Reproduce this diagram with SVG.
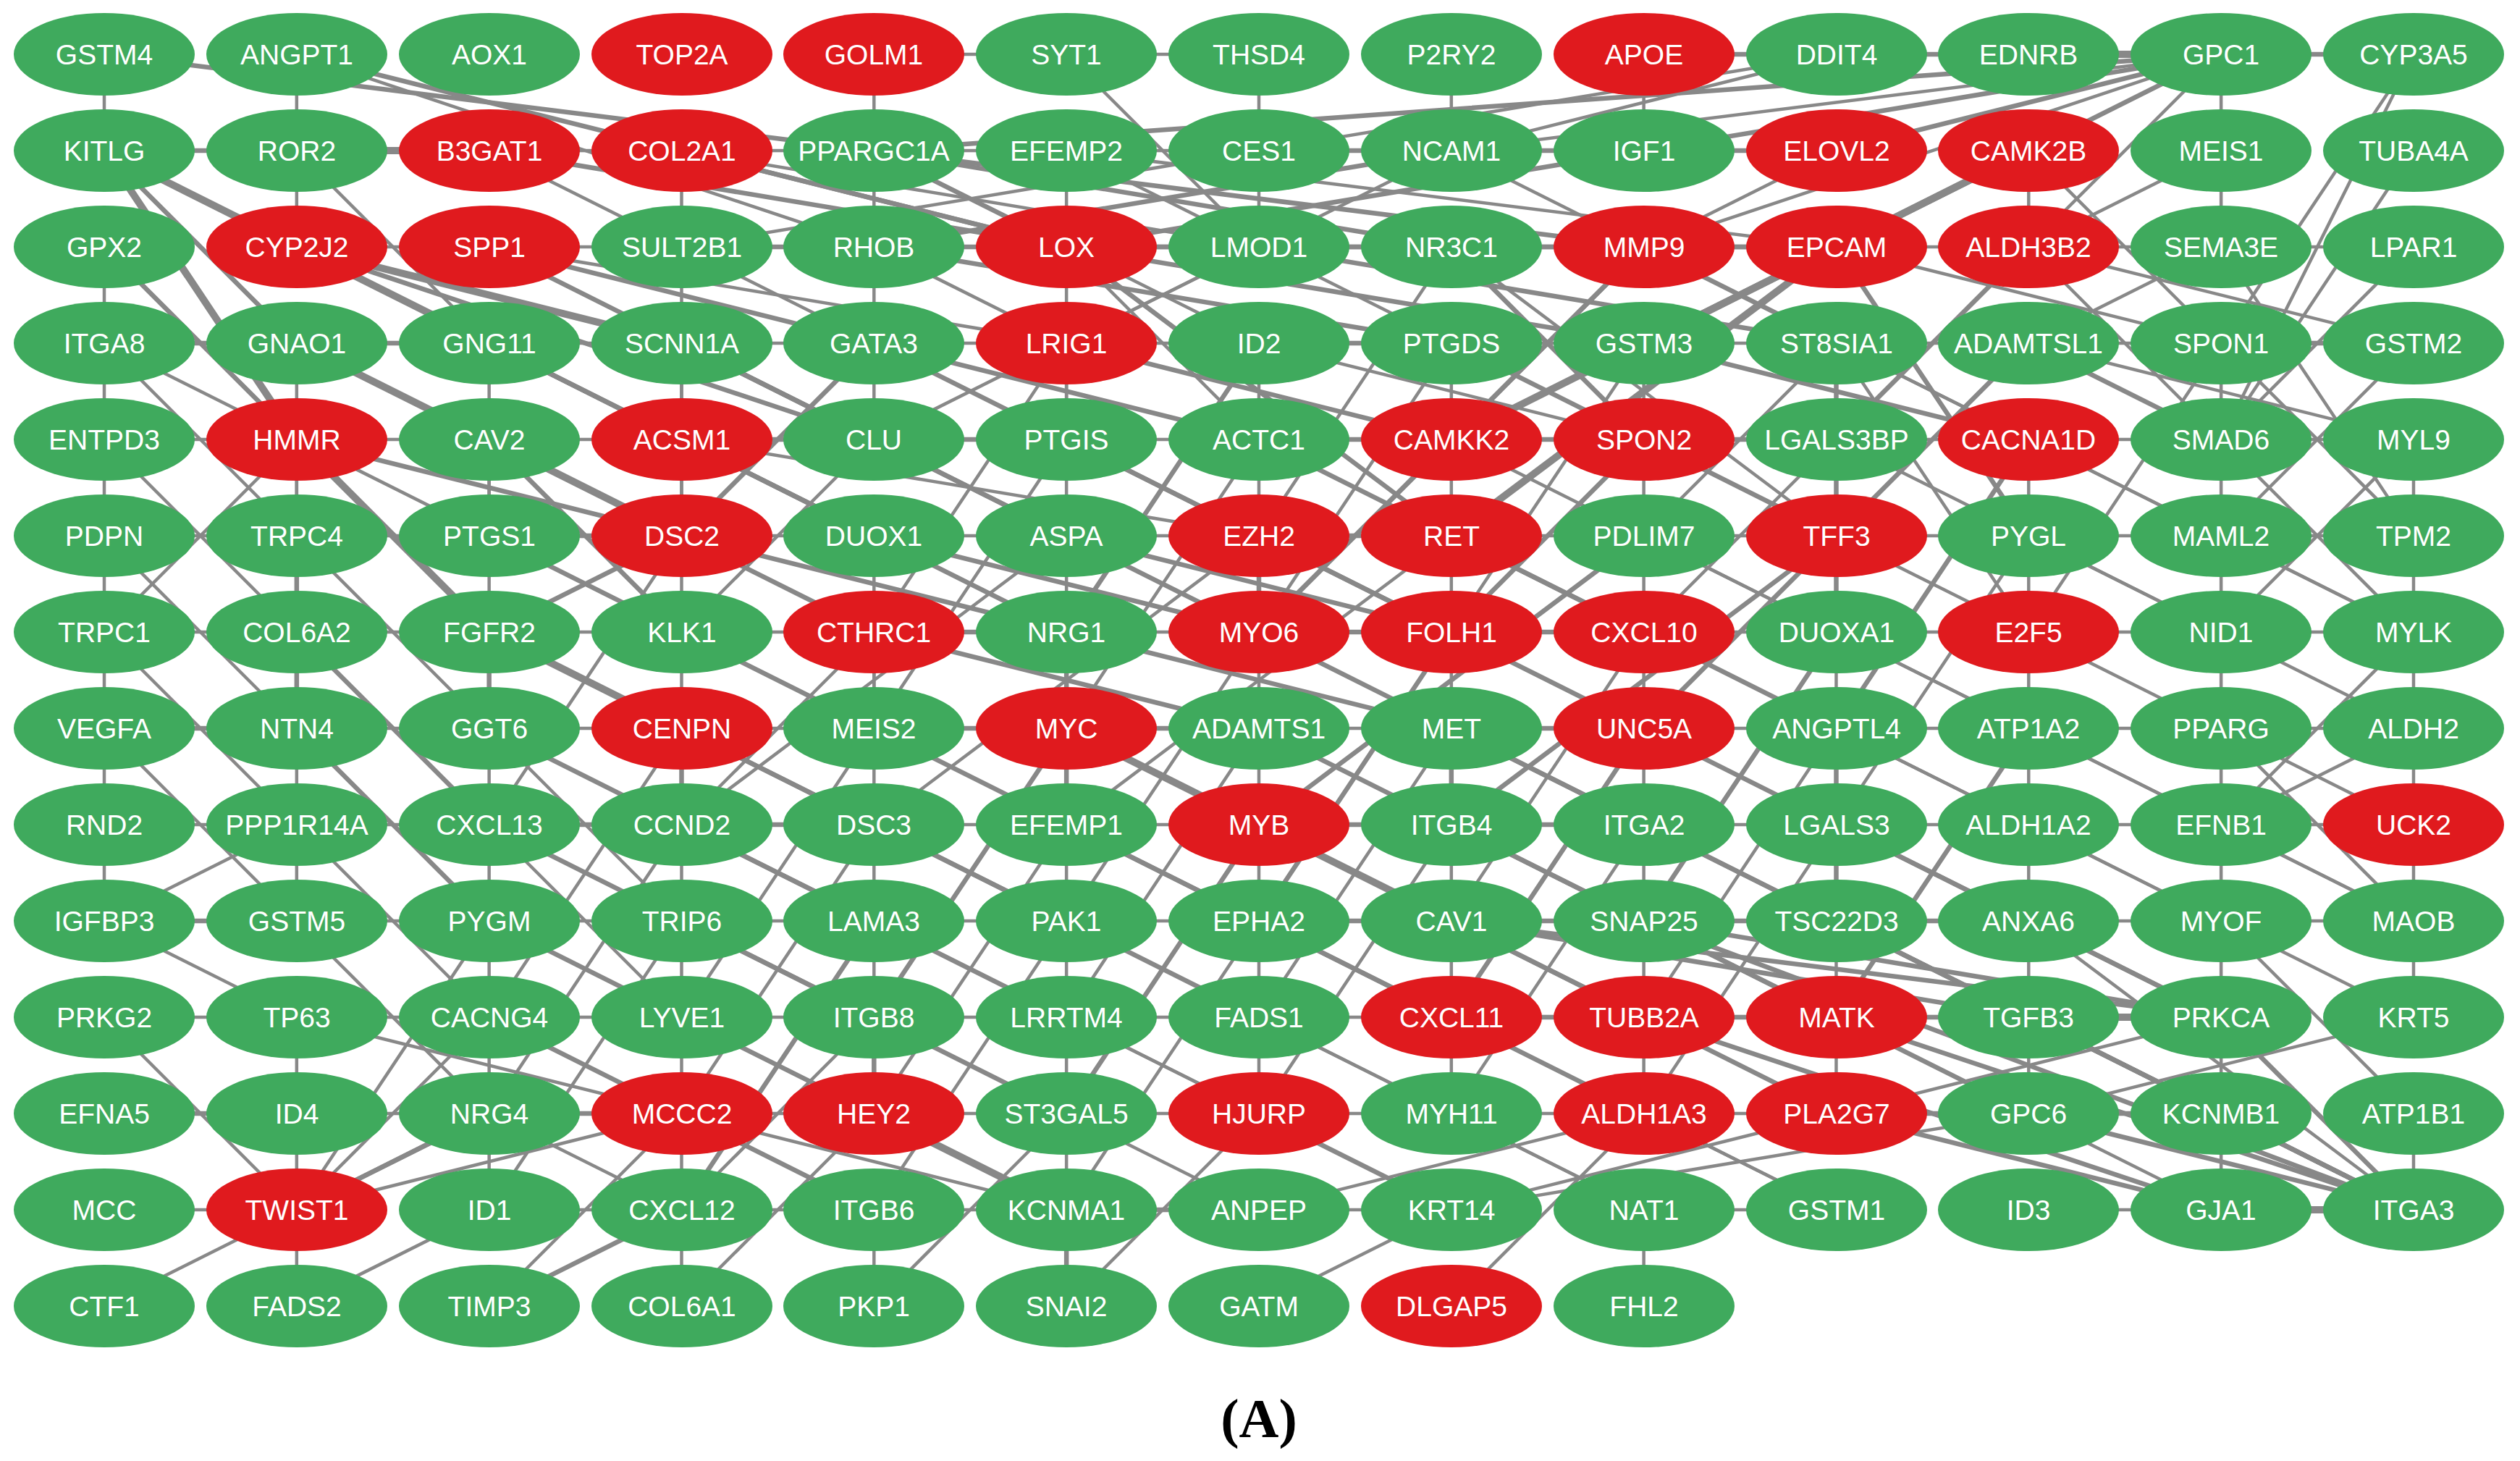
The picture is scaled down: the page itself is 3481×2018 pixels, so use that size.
<svg xmlns="http://www.w3.org/2000/svg" width="3481" height="2018" viewBox="0 0 3481 2018">
<style>
.bg{fill:#ffffff}
#connectors line{stroke:#888888;vector-effect:non-scaling-stroke;stroke-linecap:round}
#connectors .a{stroke-width:4.5}
#connectors .b{stroke-width:6.5}
#connectors .c{stroke-width:10}
.nodes ellipse{stroke:none}
.g ellipse{fill:#3faa5d}
.r ellipse{fill:#e01a1e}
.nodes text{font-family:"Liberation Sans",Arial,sans-serif;font-size:39px;fill:#ffffff;text-anchor:middle}
.cap{font-family:"Liberation Serif","Times New Roman",serif;font-size:76px;font-weight:bold;fill:#000000;text-anchor:middle}
</style>
<rect class="bg" x="0" y="0" width="3481" height="2018"/>
<g id="connectors" transform="matrix(265.83 0 0 133 144 75)">
<line class="a" x1="0" y1="0" x2="0" y2="1"/><line class="a" x1="1" y1="0" x2="1" y2="1"/><line class="b" x1="0" y1="0" x2="4" y2="1"/><line class="b" x1="1" y1="0" x2="5" y2="2"/><line class="a" x1="1" y1="0" x2="4" y2="2"/>
<line class="b" x1="0" y1="1" x2="1" y2="1"/><line class="c" x1="1" y1="1" x2="2" y2="1"/><line class="c" x1="0" y1="1" x2="2" y2="3"/><line class="c" x1="0" y1="1" x2="1" y2="4"/><line class="b" x1="0" y1="1" x2="1" y2="3"/><line class="a" x1="1" y1="1" x2="1" y2="2"/><line class="a" x1="1" y1="1" x2="2" y2="3"/>
<line class="b" x1="0" y1="2" x2="1" y2="4"/><line class="a" x1="0" y1="2" x2="0" y2="3"/><line class="c" x1="1" y1="2" x2="3" y2="3"/><line class="b" x1="1" y1="2" x2="4" y2="4"/><line class="a" x1="1" y1="2" x2="2" y2="2"/><line class="b" x1="1" y1="2" x2="4" y2="5"/>
<line class="a" x1="2" y1="1" x2="3" y2="1"/><line class="b" x1="2" y1="1" x2="5" y2="2"/><line class="a" x1="2" y1="1" x2="4" y2="3"/><line class="a" x1="3" y1="1" x2="4" y2="1"/><line class="b" x1="3" y1="1" x2="5" y2="2"/><line class="a" x1="3" y1="1" x2="6" y2="2"/><line class="a" x1="3" y1="1" x2="3" y2="2"/>
<line class="a" x1="4" y1="0" x2="4" y2="1"/><line class="a" x1="4" y1="0" x2="5" y2="0"/><line class="a" x1="5" y1="0" x2="6" y2="0"/><line class="a" x1="5" y1="0" x2="6" y2="2"/><line class="a" x1="6" y1="0" x2="6" y2="1"/>
<line class="b" x1="4" y1="1" x2="11" y2="0"/><line class="b" x1="4" y1="1" x2="5" y2="2"/><line class="b" x1="4" y1="1" x2="7" y2="2"/><line class="b" x1="4" y1="1" x2="8" y2="2"/><line class="a" x1="4" y1="1" x2="6" y2="3"/><line class="a" x1="4" y1="1" x2="4" y2="2"/>
<line class="a" x1="5" y1="1" x2="5" y2="2"/><line class="a" x1="5" y1="1" x2="6" y2="2"/><line class="a" x1="5" y1="1" x2="9" y2="2"/><line class="a" x1="6" y1="1" x2="6" y2="2"/><line class="a" x1="6" y1="1" x2="3" y2="2"/>
<line class="a" x1="7" y1="0" x2="7" y2="1"/><line class="a" x1="8" y1="0" x2="8" y2="1"/><line class="b" x1="8" y1="0" x2="9" y2="0"/><line class="b" x1="9" y1="0" x2="10" y2="0"/><line class="c" x1="10" y1="0" x2="11" y2="0"/><line class="b" x1="11" y1="0" x2="12" y2="0"/>
<line class="a" x1="11" y1="0" x2="11" y2="1"/><line class="b" x1="11" y1="0" x2="10" y2="1"/><line class="b" x1="11" y1="0" x2="9" y2="1"/><line class="b" x1="11" y1="0" x2="8" y2="1"/><line class="a" x1="11" y1="0" x2="7" y2="1"/><line class="a" x1="11" y1="0" x2="10" y2="2"/><line class="a" x1="11" y1="0" x2="9" y2="2"/><line class="a" x1="11" y1="0" x2="8" y2="2"/>
<line class="a" x1="9" y1="0" x2="7" y2="1"/><line class="a" x1="9" y1="0" x2="6" y2="1"/><line class="a" x1="12" y1="0" x2="11" y2="3"/><line class="a" x1="12" y1="0" x2="11" y2="4"/><line class="a" x1="12" y1="1" x2="11" y2="4"/>
<line class="a" x1="11" y1="1" x2="11" y2="2"/><line class="a" x1="11" y1="1" x2="10" y2="2"/><line class="c" x1="10" y1="1" x2="9" y2="2"/><line class="c" x1="10" y1="1" x2="7" y2="4"/><line class="a" x1="10" y1="1" x2="10" y2="2"/><line class="a" x1="10" y1="1" x2="11" y2="3"/>
<line class="a" x1="9" y1="1" x2="8" y2="2"/><line class="b" x1="9" y1="1" x2="6" y2="1"/><line class="a" x1="8" y1="1" x2="4" y2="1"/><line class="b" x1="8" y1="1" x2="5" y2="2"/><line class="b" x1="7" y1="1" x2="4" y2="2"/><line class="a" x1="7" y1="1" x2="8" y2="2"/><line class="a" x1="7" y1="1" x2="5" y2="3"/>
<line class="a" x1="2" y1="2" x2="3" y2="2"/><line class="b" x1="2" y1="2" x2="4" y2="4"/><line class="a" x1="2" y1="2" x2="5" y2="3"/><line class="b" x1="2" y1="2" x2="6" y2="4"/><line class="b" x1="3" y1="2" x2="4" y2="2"/><line class="a" x1="3" y1="2" x2="5" y2="2"/><line class="a" x1="3" y1="2" x2="3" y2="4"/>
<line class="b" x1="4" y1="2" x2="8" y2="2"/><line class="a" x1="4" y1="2" x2="5" y2="3"/><line class="b" x1="4" y1="2" x2="7" y2="3"/><line class="a" x1="4" y1="2" x2="4" y2="3"/>
<line class="b" x1="5" y1="2" x2="9" y2="2"/><line class="b" x1="5" y1="2" x2="8" y2="3"/><line class="a" x1="5" y1="2" x2="6" y2="4"/><line class="b" x1="5" y1="2" x2="7" y2="5"/><line class="a" x1="5" y1="2" x2="5" y2="4"/>
<line class="a" x1="6" y1="2" x2="7" y2="3"/><line class="b" x1="6" y1="2" x2="9" y2="3"/><line class="a" x1="6" y1="2" x2="4" y2="4"/><line class="a" x1="7" y1="2" x2="8" y2="2"/><line class="b" x1="7" y1="2" x2="8" y2="4"/><line class="a" x1="7" y1="2" x2="6" y2="5"/><line class="a" x1="7" y1="2" x2="9" y2="5"/>
<line class="b" x1="8" y1="2" x2="9" y2="2"/><line class="b" x1="8" y1="2" x2="9" y2="3"/><line class="b" x1="8" y1="2" x2="7" y2="4"/><line class="b" x1="8" y1="2" x2="6" y2="6"/><line class="a" x1="8" y1="2" x2="10" y2="4"/>
<line class="a" x1="9" y1="2" x2="10" y2="2"/><line class="c" x1="9" y1="2" x2="8" y2="3"/><line class="c" x1="9" y1="2" x2="7" y2="5"/><line class="b" x1="9" y1="2" x2="10" y2="5"/><line class="a" x1="9" y1="2" x2="11" y2="3"/>
<line class="a" x1="10" y1="2" x2="11" y2="2"/><line class="b" x1="10" y1="2" x2="9" y2="4"/><line class="a" x1="10" y1="2" x2="11" y2="4"/><line class="a" x1="10" y1="2" x2="12" y2="3"/><line class="a" x1="11" y1="2" x2="12" y2="2"/><line class="a" x1="11" y1="2" x2="12" y2="5"/><line class="a" x1="11" y1="2" x2="10" y2="3"/><line class="a" x1="12" y1="2" x2="11" y2="4"/>
<line class="b" x1="0" y1="3" x2="1" y2="3"/><line class="a" x1="0" y1="3" x2="2" y2="5"/><line class="a" x1="0" y1="3" x2="1" y2="5"/><line class="a" x1="0" y1="3" x2="0" y2="4"/>
<line class="b" x1="1" y1="3" x2="2" y2="3"/><line class="a" x1="1" y1="3" x2="2" y2="4"/><line class="c" x1="1" y1="3" x2="3" y2="5"/><line class="a" x1="1" y1="3" x2="1" y2="5"/>
<line class="a" x1="2" y1="3" x2="3" y2="3"/><line class="b" x1="2" y1="3" x2="3" y2="4"/><line class="a" x1="2" y1="3" x2="2" y2="5"/><line class="b" x1="2" y1="3" x2="4" y2="5"/>
<line class="a" x1="3" y1="3" x2="4" y2="3"/><line class="b" x1="3" y1="3" x2="4" y2="4"/><line class="b" x1="3" y1="3" x2="5" y2="5"/><line class="a" x1="3" y1="3" x2="3" y2="5"/>
<line class="a" x1="4" y1="3" x2="5" y2="3"/><line class="a" x1="4" y1="3" x2="4" y2="4"/><line class="b" x1="4" y1="3" x2="6" y2="5"/><line class="b" x1="4" y1="3" x2="3" y2="5"/>
<line class="a" x1="5" y1="3" x2="6" y2="3"/><line class="a" x1="5" y1="3" x2="5" y2="4"/><line class="b" x1="5" y1="3" x2="7" y2="4"/><line class="a" x1="5" y1="3" x2="4" y2="6"/>
<line class="b" x1="6" y1="3" x2="7" y2="3"/><line class="a" x1="6" y1="3" x2="6" y2="4"/><line class="a" x1="6" y1="3" x2="8" y2="4"/><line class="b" x1="6" y1="3" x2="5" y2="6"/>
<line class="a" x1="7" y1="3" x2="8" y2="3"/><line class="a" x1="7" y1="3" x2="7" y2="4"/><line class="b" x1="7" y1="3" x2="9" y2="5"/><line class="a" x1="7" y1="3" x2="6" y2="6"/>
<line class="a" x1="8" y1="3" x2="9" y2="3"/><line class="a" x1="8" y1="3" x2="8" y2="4"/><line class="b" x1="8" y1="3" x2="10" y2="4"/><line class="a" x1="8" y1="3" x2="7" y2="6"/>
<line class="a" x1="9" y1="3" x2="10" y2="3"/><line class="b" x1="9" y1="3" x2="9" y2="4"/><line class="a" x1="9" y1="3" x2="8" y2="5"/><line class="a" x1="9" y1="3" x2="11" y2="5"/><line class="a" x1="9" y1="3" x2="10" y2="6"/>
<line class="a" x1="10" y1="3" x2="11" y2="3"/><line class="b" x1="10" y1="3" x2="11" y2="4"/><line class="b" x1="10" y1="3" x2="9" y2="5"/><line class="a" x1="10" y1="3" x2="12" y2="4"/>
<line class="b" x1="11" y1="3" x2="12" y2="3"/><line class="a" x1="11" y1="3" x2="11" y2="4"/><line class="a" x1="11" y1="3" x2="10" y2="6"/><line class="a" x1="11" y1="3" x2="12" y2="5"/><line class="a" x1="12" y1="3" x2="11" y2="5"/>
<line class="a" x1="0" y1="4" x2="1" y2="4"/><line class="a" x1="0" y1="4" x2="0" y2="5"/><line class="a" x1="0" y1="4" x2="1" y2="6"/>
<line class="a" x1="1" y1="4" x2="2" y2="4"/><line class="c" x1="1" y1="4" x2="2" y2="6"/><line class="a" x1="1" y1="4" x2="1" y2="6"/><line class="b" x1="1" y1="4" x2="3" y2="5"/><line class="a" x1="1" y1="4" x2="0" y2="6"/>
<line class="a" x1="2" y1="4" x2="3" y2="4"/><line class="b" x1="2" y1="4" x2="3" y2="6"/><line class="a" x1="2" y1="4" x2="2" y2="5"/><line class="b" x1="2" y1="4" x2="4" y2="6"/>
<line class="b" x1="3" y1="4" x2="4" y2="4"/><line class="a" x1="3" y1="4" x2="3" y2="5"/><line class="b" x1="3" y1="4" x2="5" y2="6"/><line class="a" x1="3" y1="4" x2="6" y2="5"/>
<line class="b" x1="4" y1="4" x2="5" y2="4"/><line class="a" x1="4" y1="4" x2="5" y2="5"/><line class="b" x1="4" y1="4" x2="6" y2="6"/><line class="a" x1="4" y1="4" x2="3" y2="6"/>
<line class="a" x1="5" y1="4" x2="6" y2="4"/><line class="a" x1="5" y1="4" x2="5" y2="5"/><line class="b" x1="5" y1="4" x2="7" y2="6"/><line class="a" x1="5" y1="4" x2="4" y2="7"/>
<line class="b" x1="6" y1="4" x2="7" y2="4"/><line class="a" x1="6" y1="4" x2="6" y2="5"/><line class="b" x1="6" y1="4" x2="8" y2="6"/><line class="a" x1="6" y1="4" x2="5" y2="7"/>
<line class="b" x1="7" y1="4" x2="8" y2="4"/><line class="a" x1="7" y1="4" x2="7" y2="5"/><line class="b" x1="7" y1="4" x2="6" y2="6"/><line class="a" x1="7" y1="4" x2="9" y2="6"/>
<line class="b" x1="8" y1="4" x2="9" y2="4"/><line class="a" x1="8" y1="4" x2="8" y2="5"/><line class="b" x1="8" y1="4" x2="7" y2="6"/><line class="a" x1="8" y1="4" x2="10" y2="6"/>
<line class="a" x1="9" y1="4" x2="10" y2="4"/><line class="b" x1="9" y1="4" x2="9" y2="5"/><line class="a" x1="9" y1="4" x2="8" y2="6"/><line class="a" x1="9" y1="4" x2="11" y2="6"/>
<line class="a" x1="10" y1="4" x2="11" y2="4"/><line class="a" x1="10" y1="4" x2="10" y2="5"/><line class="b" x1="10" y1="4" x2="9" y2="7"/><line class="a" x1="10" y1="4" x2="12" y2="6"/>
<line class="a" x1="11" y1="4" x2="12" y2="4"/><line class="a" x1="11" y1="4" x2="11" y2="5"/><line class="a" x1="11" y1="4" x2="12" y2="6"/><line class="a" x1="12" y1="4" x2="12" y2="5"/><line class="a" x1="12" y1="4" x2="11" y2="6"/>
<line class="a" x1="0" y1="5" x2="1" y2="5"/><line class="a" x1="0" y1="5" x2="0" y2="6"/><line class="a" x1="0" y1="5" x2="1" y2="7"/>
<line class="a" x1="1" y1="5" x2="2" y2="5"/><line class="b" x1="1" y1="5" x2="1" y2="7"/><line class="a" x1="1" y1="5" x2="2" y2="7"/>
<line class="b" x1="2" y1="5" x2="3" y2="5"/><line class="a" x1="2" y1="5" x2="2" y2="6"/><line class="b" x1="2" y1="5" x2="4" y2="7"/>
<line class="a" x1="3" y1="5" x2="4" y2="5"/><line class="a" x1="3" y1="5" x2="3" y2="6"/><line class="b" x1="3" y1="5" x2="2" y2="6"/><line class="b" x1="3" y1="5" x2="5" y2="6"/><line class="a" x1="3" y1="5" x2="2" y2="8"/>
<line class="a" x1="4" y1="5" x2="5" y2="5"/><line class="a" x1="4" y1="5" x2="4" y2="7"/><line class="b" x1="4" y1="5" x2="6" y2="6"/>
<line class="a" x1="5" y1="5" x2="6" y2="5"/><line class="a" x1="5" y1="5" x2="5" y2="7"/><line class="b" x1="5" y1="5" x2="7" y2="6"/><line class="a" x1="5" y1="5" x2="3" y2="8"/>
<line class="b" x1="6" y1="5" x2="7" y2="5"/><line class="b" x1="6" y1="5" x2="6" y2="6"/><line class="b" x1="6" y1="5" x2="8" y2="7"/><line class="a" x1="6" y1="5" x2="4" y2="8"/>
<line class="a" x1="7" y1="5" x2="8" y2="5"/><line class="a" x1="7" y1="5" x2="7" y2="6"/><line class="b" x1="7" y1="5" x2="9" y2="7"/><line class="a" x1="7" y1="5" x2="5" y2="8"/>
<line class="a" x1="8" y1="5" x2="9" y2="5"/><line class="a" x1="8" y1="5" x2="8" y2="6"/><line class="a" x1="8" y1="5" x2="10" y2="7"/><line class="b" x1="8" y1="5" x2="6" y2="8"/>
<line class="a" x1="9" y1="5" x2="10" y2="5"/><line class="b" x1="9" y1="5" x2="9" y2="6"/><line class="b" x1="9" y1="5" x2="8" y2="7"/><line class="b" x1="9" y1="5" x2="7" y2="8"/>
<line class="a" x1="10" y1="5" x2="11" y2="5"/><line class="a" x1="10" y1="5" x2="10" y2="6"/><line class="a" x1="10" y1="5" x2="12" y2="7"/><line class="a" x1="10" y1="5" x2="9" y2="8"/>
<line class="a" x1="11" y1="5" x2="12" y2="5"/><line class="a" x1="11" y1="5" x2="11" y2="6"/><line class="a" x1="11" y1="5" x2="12" y2="6"/><line class="a" x1="12" y1="5" x2="12" y2="6"/>
<line class="a" x1="0" y1="6" x2="1" y2="6"/><line class="a" x1="0" y1="6" x2="0" y2="7"/><line class="a" x1="0" y1="6" x2="1" y2="8"/>
<line class="a" x1="1" y1="6" x2="2" y2="6"/><line class="a" x1="1" y1="6" x2="1" y2="7"/><line class="b" x1="1" y1="6" x2="2" y2="8"/>
<line class="a" x1="2" y1="6" x2="3" y2="6"/><line class="b" x1="2" y1="6" x2="2" y2="7"/><line class="c" x1="2" y1="6" x2="3" y2="7"/><line class="b" x1="2" y1="6" x2="4" y2="8"/>
<line class="a" x1="3" y1="6" x2="4" y2="6"/><line class="a" x1="3" y1="6" x2="3" y2="7"/><line class="a" x1="3" y1="6" x2="5" y2="8"/>
<line class="b" x1="4" y1="6" x2="5" y2="6"/><line class="a" x1="4" y1="6" x2="4" y2="7"/><line class="b" x1="4" y1="6" x2="6" y2="7"/><line class="a" x1="4" y1="6" x2="3" y2="8"/>
<line class="a" x1="5" y1="6" x2="6" y2="6"/><line class="b" x1="5" y1="6" x2="5" y2="7"/><line class="b" x1="5" y1="6" x2="7" y2="7"/>
<line class="b" x1="6" y1="6" x2="7" y2="6"/><line class="a" x1="6" y1="6" x2="6" y2="7"/><line class="b" x1="6" y1="6" x2="8" y2="8"/><line class="a" x1="6" y1="6" x2="5" y2="9"/>
<line class="b" x1="7" y1="6" x2="8" y2="6"/><line class="a" x1="7" y1="6" x2="7" y2="7"/><line class="a" x1="7" y1="6" x2="9" y2="8"/><line class="b" x1="7" y1="6" x2="6" y2="9"/>
<line class="a" x1="8" y1="6" x2="9" y2="6"/><line class="a" x1="8" y1="6" x2="8" y2="7"/><line class="a" x1="8" y1="6" x2="10" y2="8"/><line class="a" x1="8" y1="6" x2="7" y2="9"/>
<line class="a" x1="9" y1="6" x2="10" y2="6"/><line class="a" x1="9" y1="6" x2="9" y2="7"/><line class="a" x1="9" y1="6" x2="11" y2="8"/><line class="b" x1="9" y1="6" x2="8" y2="9"/>
<line class="a" x1="10" y1="6" x2="11" y2="6"/><line class="a" x1="10" y1="6" x2="10" y2="7"/><line class="a" x1="10" y1="6" x2="12" y2="8"/>
<line class="a" x1="11" y1="6" x2="12" y2="6"/><line class="a" x1="11" y1="6" x2="11" y2="7"/><line class="a" x1="12" y1="6" x2="12" y2="7"/><line class="a" x1="12" y1="6" x2="11" y2="8"/>
<line class="b" x1="0" y1="7" x2="1" y2="7"/><line class="a" x1="0" y1="7" x2="0" y2="8"/><line class="a" x1="0" y1="7" x2="1" y2="9"/>
<line class="a" x1="1" y1="7" x2="2" y2="7"/><line class="a" x1="1" y1="7" x2="1" y2="8"/><line class="b" x1="1" y1="7" x2="2" y2="9"/>
<line class="a" x1="2" y1="7" x2="3" y2="7"/><line class="a" x1="2" y1="7" x2="2" y2="8"/><line class="b" x1="2" y1="7" x2="4" y2="9"/><line class="a" x1="2" y1="7" x2="3" y2="9"/>
<line class="a" x1="3" y1="7" x2="4" y2="7"/><line class="b" x1="3" y1="7" x2="3" y2="8"/><line class="b" x1="3" y1="7" x2="5" y2="9"/><line class="a" x1="3" y1="7" x2="2" y2="10"/>
<line class="b" x1="4" y1="7" x2="5" y2="7"/><line class="a" x1="4" y1="7" x2="4" y2="8"/><line class="b" x1="4" y1="7" x2="6" y2="9"/><line class="a" x1="4" y1="7" x2="3" y2="10"/>
<line class="b" x1="5" y1="7" x2="6" y2="7"/><line class="b" x1="5" y1="7" x2="5" y2="8"/><line class="c" x1="5" y1="7" x2="7" y2="9"/><line class="b" x1="5" y1="7" x2="4" y2="10"/><line class="b" x1="5" y1="7" x2="6" y2="8"/>
<line class="a" x1="6" y1="7" x2="7" y2="7"/><line class="a" x1="6" y1="7" x2="6" y2="8"/><line class="b" x1="6" y1="7" x2="8" y2="9"/><line class="a" x1="6" y1="7" x2="5" y2="10"/>
<line class="b" x1="7" y1="7" x2="8" y2="7"/><line class="b" x1="7" y1="7" x2="7" y2="8"/><line class="b" x1="7" y1="7" x2="9" y2="9"/><line class="a" x1="7" y1="7" x2="6" y2="10"/>
<line class="a" x1="8" y1="7" x2="9" y2="7"/><line class="a" x1="8" y1="7" x2="8" y2="8"/><line class="b" x1="8" y1="7" x2="10" y2="9"/><line class="b" x1="8" y1="7" x2="7" y2="10"/>
<line class="a" x1="9" y1="7" x2="10" y2="7"/><line class="b" x1="9" y1="7" x2="9" y2="8"/><line class="a" x1="9" y1="7" x2="11" y2="9"/><line class="a" x1="9" y1="7" x2="8" y2="10"/>
<line class="a" x1="10" y1="7" x2="11" y2="7"/><line class="a" x1="10" y1="7" x2="10" y2="8"/><line class="a" x1="10" y1="7" x2="12" y2="9"/><line class="b" x1="10" y1="7" x2="9" y2="10"/>
<line class="a" x1="11" y1="7" x2="12" y2="7"/><line class="a" x1="11" y1="7" x2="11" y2="8"/><line class="a" x1="11" y1="7" x2="12" y2="9"/><line class="a" x1="12" y1="7" x2="12" y2="8"/><line class="a" x1="12" y1="7" x2="11" y2="8"/>
<line class="a" x1="0" y1="8" x2="1" y2="8"/><line class="a" x1="0" y1="8" x2="0" y2="9"/><line class="a" x1="1" y1="8" x2="2" y2="8"/><line class="a" x1="1" y1="8" x2="1" y2="9"/><line class="a" x1="1" y1="8" x2="0" y2="9"/><line class="a" x1="1" y1="8" x2="2" y2="10"/>
<line class="b" x1="2" y1="8" x2="3" y2="8"/><line class="a" x1="2" y1="8" x2="2" y2="9"/><line class="b" x1="2" y1="8" x2="4" y2="10"/><line class="a" x1="2" y1="8" x2="3" y2="10"/>
<line class="b" x1="3" y1="8" x2="4" y2="8"/><line class="a" x1="3" y1="8" x2="3" y2="9"/><line class="b" x1="3" y1="8" x2="5" y2="10"/><line class="a" x1="3" y1="8" x2="2" y2="11"/>
<line class="a" x1="4" y1="8" x2="5" y2="8"/><line class="a" x1="4" y1="8" x2="4" y2="9"/><line class="b" x1="4" y1="8" x2="6" y2="10"/><line class="a" x1="4" y1="8" x2="3" y2="11"/>
<line class="a" x1="5" y1="8" x2="6" y2="8"/><line class="a" x1="5" y1="8" x2="5" y2="9"/><line class="b" x1="5" y1="8" x2="7" y2="10"/><line class="a" x1="5" y1="8" x2="4" y2="11"/>
<line class="b" x1="6" y1="8" x2="7" y2="8"/><line class="a" x1="6" y1="8" x2="6" y2="9"/><line class="b" x1="6" y1="8" x2="8" y2="10"/><line class="b" x1="6" y1="8" x2="5" y2="11"/>
<line class="b" x1="7" y1="8" x2="8" y2="8"/><line class="a" x1="7" y1="8" x2="7" y2="9"/><line class="b" x1="7" y1="8" x2="9" y2="10"/><line class="a" x1="7" y1="8" x2="6" y2="11"/>
<line class="a" x1="8" y1="8" x2="9" y2="8"/><line class="a" x1="8" y1="8" x2="8" y2="9"/><line class="b" x1="8" y1="8" x2="10" y2="10"/><line class="a" x1="8" y1="8" x2="7" y2="11"/>
<line class="a" x1="9" y1="8" x2="10" y2="8"/><line class="b" x1="9" y1="8" x2="9" y2="9"/><line class="b" x1="9" y1="8" x2="11" y2="10"/><line class="a" x1="9" y1="8" x2="8" y2="11"/>
<line class="a" x1="10" y1="8" x2="11" y2="8"/><line class="a" x1="10" y1="8" x2="10" y2="9"/><line class="a" x1="10" y1="8" x2="12" y2="10"/><line class="a" x1="11" y1="8" x2="12" y2="8"/><line class="a" x1="11" y1="8" x2="11" y2="9"/><line class="a" x1="11" y1="8" x2="12" y2="9"/><line class="a" x1="12" y1="8" x2="12" y2="9"/>
<line class="b" x1="0" y1="9" x2="1" y2="9"/><line class="a" x1="0" y1="9" x2="1" y2="10"/><line class="a" x1="1" y1="9" x2="2" y2="9"/><line class="a" x1="1" y1="9" x2="2" y2="11"/>
<line class="a" x1="2" y1="9" x2="3" y2="9"/><line class="a" x1="2" y1="9" x2="2" y2="10"/><line class="b" x1="2" y1="9" x2="4" y2="11"/><line class="a" x1="2" y1="9" x2="1" y2="12"/>
<line class="a" x1="3" y1="9" x2="4" y2="9"/><line class="a" x1="3" y1="9" x2="3" y2="10"/><line class="b" x1="3" y1="9" x2="5" y2="11"/><line class="a" x1="3" y1="9" x2="2" y2="12"/>
<line class="a" x1="4" y1="9" x2="5" y2="9"/><line class="a" x1="4" y1="9" x2="4" y2="10"/><line class="a" x1="4" y1="9" x2="6" y2="11"/><line class="b" x1="4" y1="9" x2="3" y2="12"/>
<line class="a" x1="5" y1="9" x2="6" y2="9"/><line class="a" x1="5" y1="9" x2="5" y2="10"/><line class="a" x1="5" y1="9" x2="7" y2="11"/><line class="a" x1="5" y1="9" x2="4" y2="12"/>
<line class="b" x1="6" y1="9" x2="7" y2="9"/><line class="a" x1="6" y1="9" x2="6" y2="10"/><line class="b" x1="6" y1="9" x2="8" y2="11"/><line class="a" x1="6" y1="9" x2="5" y2="12"/>
<line class="b" x1="7" y1="9" x2="8" y2="9"/><line class="a" x1="7" y1="9" x2="7" y2="10"/><line class="b" x1="7" y1="9" x2="9" y2="11"/><line class="b" x1="7" y1="9" x2="10" y2="10"/><line class="b" x1="7" y1="9" x2="11" y2="10"/>
<line class="b" x1="8" y1="9" x2="9" y2="9"/><line class="a" x1="8" y1="9" x2="8" y2="10"/><line class="b" x1="8" y1="9" x2="10" y2="11"/><line class="b" x1="8" y1="9" x2="11" y2="10"/><line class="b" x1="8" y1="9" x2="12" y2="12"/>
<line class="b" x1="9" y1="9" x2="10" y2="9"/><line class="a" x1="9" y1="9" x2="9" y2="10"/><line class="b" x1="9" y1="9" x2="11" y2="11"/><line class="b" x1="9" y1="9" x2="12" y2="12"/>
<line class="a" x1="10" y1="9" x2="11" y2="9"/><line class="a" x1="10" y1="9" x2="10" y2="10"/><line class="b" x1="10" y1="9" x2="11" y2="10"/><line class="a" x1="10" y1="9" x2="12" y2="12"/>
<line class="a" x1="11" y1="9" x2="12" y2="9"/><line class="a" x1="11" y1="9" x2="11" y2="10"/><line class="a" x1="11" y1="9" x2="12" y2="11"/><line class="a" x1="12" y1="9" x2="12" y2="10"/>
<line class="a" x1="0" y1="10" x2="1" y2="10"/><line class="a" x1="0" y1="10" x2="1" y2="12"/><line class="a" x1="1" y1="10" x2="2" y2="10"/><line class="a" x1="1" y1="10" x2="1" y2="11"/><line class="a" x1="1" y1="10" x2="3" y2="11"/>
<line class="a" x1="2" y1="10" x2="3" y2="10"/><line class="a" x1="2" y1="10" x2="2" y2="11"/><line class="b" x1="2" y1="10" x2="4" y2="12"/><line class="a" x1="2" y1="10" x2="1" y2="12"/>
<line class="a" x1="3" y1="10" x2="4" y2="10"/><line class="a" x1="3" y1="10" x2="3" y2="11"/><line class="a" x1="3" y1="10" x2="5" y2="12"/>
<line class="a" x1="4" y1="10" x2="5" y2="10"/><line class="b" x1="4" y1="10" x2="4" y2="11"/><line class="a" x1="4" y1="10" x2="6" y2="12"/><line class="a" x1="4" y1="10" x2="3" y2="12"/>
<line class="a" x1="5" y1="10" x2="6" y2="10"/><line class="a" x1="5" y1="10" x2="5" y2="11"/><line class="a" x1="5" y1="10" x2="7" y2="12"/>
<line class="a" x1="6" y1="10" x2="7" y2="10"/><line class="a" x1="6" y1="10" x2="6" y2="11"/><line class="a" x1="6" y1="10" x2="8" y2="12"/>
<line class="b" x1="7" y1="10" x2="8" y2="10"/><line class="a" x1="7" y1="10" x2="7" y2="11"/><line class="a" x1="7" y1="10" x2="9" y2="12"/>
<line class="b" x1="8" y1="10" x2="9" y2="10"/><line class="a" x1="8" y1="10" x2="8" y2="11"/><line class="b" x1="8" y1="10" x2="11" y2="12"/>
<line class="b" x1="9" y1="10" x2="10" y2="10"/><line class="a" x1="9" y1="10" x2="9" y2="11"/><line class="b" x1="9" y1="10" x2="12" y2="12"/>
<line class="c" x1="10" y1="10" x2="11" y2="10"/><line class="a" x1="10" y1="10" x2="10" y2="11"/><line class="b" x1="10" y1="10" x2="12" y2="12"/>
<line class="a" x1="11" y1="10" x2="11" y2="11"/><line class="b" x1="11" y1="10" x2="12" y2="12"/><line class="a" x1="12" y1="10" x2="10" y2="11"/>
<line class="b" x1="0" y1="11" x2="1" y2="11"/><line class="a" x1="1" y1="11" x2="2" y2="11"/><line class="a" x1="1" y1="11" x2="1" y2="12"/>
<line class="b" x1="2" y1="11" x2="3" y2="11"/><line class="b" x1="2" y1="11" x2="1" y2="12"/><line class="a" x1="2" y1="11" x2="2" y2="12"/><line class="a" x1="2" y1="11" x2="3" y2="12"/>
<line class="a" x1="3" y1="11" x2="4" y2="11"/><line class="a" x1="3" y1="11" x2="3" y2="12"/><line class="a" x1="3" y1="11" x2="5" y2="12"/><line class="a" x1="3" y1="11" x2="2" y2="13"/>
<line class="a" x1="4" y1="11" x2="5" y2="11"/><line class="c" x1="4" y1="11" x2="5" y2="12"/><line class="a" x1="4" y1="11" x2="3" y2="13"/>
<line class="a" x1="5" y1="11" x2="6" y2="11"/><line class="a" x1="5" y1="11" x2="5" y2="12"/><line class="a" x1="5" y1="11" x2="4" y2="13"/>
<line class="a" x1="6" y1="11" x2="7" y2="11"/><line class="b" x1="6" y1="11" x2="7" y2="12"/><line class="a" x1="6" y1="11" x2="5" y2="13"/>
<line class="a" x1="7" y1="11" x2="8" y2="11"/><line class="a" x1="7" y1="11" x2="8" y2="12"/><line class="a" x1="8" y1="11" x2="9" y2="11"/><line class="a" x1="8" y1="11" x2="9" y2="12"/>
<line class="b" x1="9" y1="11" x2="10" y2="11"/><line class="b" x1="9" y1="11" x2="11" y2="12"/><line class="b" x1="10" y1="11" x2="11" y2="11"/><line class="b" x1="10" y1="11" x2="12" y2="12"/><line class="a" x1="10" y1="11" x2="11" y2="12"/>
<line class="a" x1="11" y1="11" x2="11" y2="12"/><line class="b" x1="11" y1="11" x2="12" y2="12"/><line class="a" x1="12" y1="11" x2="12" y2="12"/>
<line class="a" x1="0" y1="12" x2="1" y2="12"/><line class="a" x1="0" y1="13" x2="1" y2="12"/><line class="a" x1="1" y1="12" x2="1" y2="13"/><line class="a" x1="1" y1="13" x2="2" y2="12"/><line class="b" x1="2" y1="13" x2="3" y2="12"/>
<line class="b" x1="1" y1="12" x2="2" y2="11"/><line class="a" x1="1" y1="12" x2="3" y2="11"/><line class="a" x1="2" y1="12" x2="3" y2="12"/><line class="a" x1="3" y1="12" x2="4" y2="12"/><line class="a" x1="4" y1="12" x2="5" y2="12"/>
<line class="b" x1="5" y1="12" x2="6" y2="12"/><line class="a" x1="6" y1="12" x2="7" y2="12"/><line class="a" x1="8" y1="12" x2="9" y2="12"/><line class="a" x1="10" y1="12" x2="11" y2="12"/><line class="c" x1="11" y1="12" x2="12" y2="12"/>
<line class="a" x1="6" y1="13" x2="7" y2="12"/><line class="a" x1="7" y1="13" x2="8" y2="11"/><line class="a" x1="8" y1="13" x2="8" y2="12"/><line class="a" x1="3" y1="13" x2="3" y2="12"/><line class="a" x1="4" y1="13" x2="4" y2="12"/><line class="b" x1="5" y1="13" x2="5" y2="12"/>
<line class="a" x1="7" y1="12" x2="10" y2="11"/><line class="a" x1="7" y1="12" x2="11" y2="10"/><line class="a" x1="6" y1="12" x2="8" y2="11"/>
</g>
<g class="nodes">
<g id="n-GSTM4" class="g" transform="translate(144,75)"><ellipse rx="125" ry="57"/><text y="14">GSTM4</text></g>
<g id="n-ANGPT1" class="g" transform="translate(410,75)"><ellipse rx="125" ry="57"/><text y="14">ANGPT1</text></g>
<g id="n-AOX1" class="g" transform="translate(676,75)"><ellipse rx="125" ry="57"/><text y="14">AOX1</text></g>
<g id="n-TOP2A" class="r" transform="translate(942,75)"><ellipse rx="125" ry="57"/><text y="14">TOP2A</text></g>
<g id="n-GOLM1" class="r" transform="translate(1207,75)"><ellipse rx="125" ry="57"/><text y="14">GOLM1</text></g>
<g id="n-SYT1" class="g" transform="translate(1473,75)"><ellipse rx="125" ry="57"/><text y="14">SYT1</text></g>
<g id="n-THSD4" class="g" transform="translate(1739,75)"><ellipse rx="125" ry="57"/><text y="14">THSD4</text></g>
<g id="n-P2RY2" class="g" transform="translate(2005,75)"><ellipse rx="125" ry="57"/><text y="14">P2RY2</text></g>
<g id="n-APOE" class="r" transform="translate(2271,75)"><ellipse rx="125" ry="57"/><text y="14">APOE</text></g>
<g id="n-DDIT4" class="g" transform="translate(2537,75)"><ellipse rx="125" ry="57"/><text y="14">DDIT4</text></g>
<g id="n-EDNRB" class="g" transform="translate(2802,75)"><ellipse rx="125" ry="57"/><text y="14">EDNRB</text></g>
<g id="n-GPC1" class="g" transform="translate(3068,75)"><ellipse rx="125" ry="57"/><text y="14">GPC1</text></g>
<g id="n-CYP3A5" class="g" transform="translate(3334,75)"><ellipse rx="125" ry="57"/><text y="14">CYP3A5</text></g>
<g id="n-KITLG" class="g" transform="translate(144,208)"><ellipse rx="125" ry="57"/><text y="14">KITLG</text></g>
<g id="n-ROR2" class="g" transform="translate(410,208)"><ellipse rx="125" ry="57"/><text y="14">ROR2</text></g>
<g id="n-B3GAT1" class="r" transform="translate(676,208)"><ellipse rx="125" ry="57"/><text y="14">B3GAT1</text></g>
<g id="n-COL2A1" class="r" transform="translate(942,208)"><ellipse rx="125" ry="57"/><text y="14">COL2A1</text></g>
<g id="n-PPARGC1A" class="g" transform="translate(1207,208)"><ellipse rx="125" ry="57"/><text y="14">PPARGC1A</text></g>
<g id="n-EFEMP2" class="g" transform="translate(1473,208)"><ellipse rx="125" ry="57"/><text y="14">EFEMP2</text></g>
<g id="n-CES1" class="g" transform="translate(1739,208)"><ellipse rx="125" ry="57"/><text y="14">CES1</text></g>
<g id="n-NCAM1" class="g" transform="translate(2005,208)"><ellipse rx="125" ry="57"/><text y="14">NCAM1</text></g>
<g id="n-IGF1" class="g" transform="translate(2271,208)"><ellipse rx="125" ry="57"/><text y="14">IGF1</text></g>
<g id="n-ELOVL2" class="r" transform="translate(2537,208)"><ellipse rx="125" ry="57"/><text y="14">ELOVL2</text></g>
<g id="n-CAMK2B" class="r" transform="translate(2802,208)"><ellipse rx="125" ry="57"/><text y="14">CAMK2B</text></g>
<g id="n-MEIS1" class="g" transform="translate(3068,208)"><ellipse rx="125" ry="57"/><text y="14">MEIS1</text></g>
<g id="n-TUBA4A" class="g" transform="translate(3334,208)"><ellipse rx="125" ry="57"/><text y="14">TUBA4A</text></g>
<g id="n-GPX2" class="g" transform="translate(144,341)"><ellipse rx="125" ry="57"/><text y="14">GPX2</text></g>
<g id="n-CYP2J2" class="r" transform="translate(410,341)"><ellipse rx="125" ry="57"/><text y="14">CYP2J2</text></g>
<g id="n-SPP1" class="r" transform="translate(676,341)"><ellipse rx="125" ry="57"/><text y="14">SPP1</text></g>
<g id="n-SULT2B1" class="g" transform="translate(942,341)"><ellipse rx="125" ry="57"/><text y="14">SULT2B1</text></g>
<g id="n-RHOB" class="g" transform="translate(1207,341)"><ellipse rx="125" ry="57"/><text y="14">RHOB</text></g>
<g id="n-LOX" class="r" transform="translate(1473,341)"><ellipse rx="125" ry="57"/><text y="14">LOX</text></g>
<g id="n-LMOD1" class="g" transform="translate(1739,341)"><ellipse rx="125" ry="57"/><text y="14">LMOD1</text></g>
<g id="n-NR3C1" class="g" transform="translate(2005,341)"><ellipse rx="125" ry="57"/><text y="14">NR3C1</text></g>
<g id="n-MMP9" class="r" transform="translate(2271,341)"><ellipse rx="125" ry="57"/><text y="14">MMP9</text></g>
<g id="n-EPCAM" class="r" transform="translate(2537,341)"><ellipse rx="125" ry="57"/><text y="14">EPCAM</text></g>
<g id="n-ALDH3B2" class="r" transform="translate(2802,341)"><ellipse rx="125" ry="57"/><text y="14">ALDH3B2</text></g>
<g id="n-SEMA3E" class="g" transform="translate(3068,341)"><ellipse rx="125" ry="57"/><text y="14">SEMA3E</text></g>
<g id="n-LPAR1" class="g" transform="translate(3334,341)"><ellipse rx="125" ry="57"/><text y="14">LPAR1</text></g>
<g id="n-ITGA8" class="g" transform="translate(144,474)"><ellipse rx="125" ry="57"/><text y="14">ITGA8</text></g>
<g id="n-GNAO1" class="g" transform="translate(410,474)"><ellipse rx="125" ry="57"/><text y="14">GNAO1</text></g>
<g id="n-GNG11" class="g" transform="translate(676,474)"><ellipse rx="125" ry="57"/><text y="14">GNG11</text></g>
<g id="n-SCNN1A" class="g" transform="translate(942,474)"><ellipse rx="125" ry="57"/><text y="14">SCNN1A</text></g>
<g id="n-GATA3" class="g" transform="translate(1207,474)"><ellipse rx="125" ry="57"/><text y="14">GATA3</text></g>
<g id="n-LRIG1" class="r" transform="translate(1473,474)"><ellipse rx="125" ry="57"/><text y="14">LRIG1</text></g>
<g id="n-ID2" class="g" transform="translate(1739,474)"><ellipse rx="125" ry="57"/><text y="14">ID2</text></g>
<g id="n-PTGDS" class="g" transform="translate(2005,474)"><ellipse rx="125" ry="57"/><text y="14">PTGDS</text></g>
<g id="n-GSTM3" class="g" transform="translate(2271,474)"><ellipse rx="125" ry="57"/><text y="14">GSTM3</text></g>
<g id="n-ST8SIA1" class="g" transform="translate(2537,474)"><ellipse rx="125" ry="57"/><text y="14">ST8SIA1</text></g>
<g id="n-ADAMTSL1" class="g" transform="translate(2802,474)"><ellipse rx="125" ry="57"/><text y="14">ADAMTSL1</text></g>
<g id="n-SPON1" class="g" transform="translate(3068,474)"><ellipse rx="125" ry="57"/><text y="14">SPON1</text></g>
<g id="n-GSTM2" class="g" transform="translate(3334,474)"><ellipse rx="125" ry="57"/><text y="14">GSTM2</text></g>
<g id="n-ENTPD3" class="g" transform="translate(144,607)"><ellipse rx="125" ry="57"/><text y="14">ENTPD3</text></g>
<g id="n-HMMR" class="r" transform="translate(410,607)"><ellipse rx="125" ry="57"/><text y="14">HMMR</text></g>
<g id="n-CAV2" class="g" transform="translate(676,607)"><ellipse rx="125" ry="57"/><text y="14">CAV2</text></g>
<g id="n-ACSM1" class="r" transform="translate(942,607)"><ellipse rx="125" ry="57"/><text y="14">ACSM1</text></g>
<g id="n-CLU" class="g" transform="translate(1207,607)"><ellipse rx="125" ry="57"/><text y="14">CLU</text></g>
<g id="n-PTGIS" class="g" transform="translate(1473,607)"><ellipse rx="125" ry="57"/><text y="14">PTGIS</text></g>
<g id="n-ACTC1" class="g" transform="translate(1739,607)"><ellipse rx="125" ry="57"/><text y="14">ACTC1</text></g>
<g id="n-CAMKK2" class="r" transform="translate(2005,607)"><ellipse rx="125" ry="57"/><text y="14">CAMKK2</text></g>
<g id="n-SPON2" class="r" transform="translate(2271,607)"><ellipse rx="125" ry="57"/><text y="14">SPON2</text></g>
<g id="n-LGALS3BP" class="g" transform="translate(2537,607)"><ellipse rx="125" ry="57"/><text y="14">LGALS3BP</text></g>
<g id="n-CACNA1D" class="r" transform="translate(2802,607)"><ellipse rx="125" ry="57"/><text y="14">CACNA1D</text></g>
<g id="n-SMAD6" class="g" transform="translate(3068,607)"><ellipse rx="125" ry="57"/><text y="14">SMAD6</text></g>
<g id="n-MYL9" class="g" transform="translate(3334,607)"><ellipse rx="125" ry="57"/><text y="14">MYL9</text></g>
<g id="n-PDPN" class="g" transform="translate(144,740)"><ellipse rx="125" ry="57"/><text y="14">PDPN</text></g>
<g id="n-TRPC4" class="g" transform="translate(410,740)"><ellipse rx="125" ry="57"/><text y="14">TRPC4</text></g>
<g id="n-PTGS1" class="g" transform="translate(676,740)"><ellipse rx="125" ry="57"/><text y="14">PTGS1</text></g>
<g id="n-DSC2" class="r" transform="translate(942,740)"><ellipse rx="125" ry="57"/><text y="14">DSC2</text></g>
<g id="n-DUOX1" class="g" transform="translate(1207,740)"><ellipse rx="125" ry="57"/><text y="14">DUOX1</text></g>
<g id="n-ASPA" class="g" transform="translate(1473,740)"><ellipse rx="125" ry="57"/><text y="14">ASPA</text></g>
<g id="n-EZH2" class="r" transform="translate(1739,740)"><ellipse rx="125" ry="57"/><text y="14">EZH2</text></g>
<g id="n-RET" class="r" transform="translate(2005,740)"><ellipse rx="125" ry="57"/><text y="14">RET</text></g>
<g id="n-PDLIM7" class="g" transform="translate(2271,740)"><ellipse rx="125" ry="57"/><text y="14">PDLIM7</text></g>
<g id="n-TFF3" class="r" transform="translate(2537,740)"><ellipse rx="125" ry="57"/><text y="14">TFF3</text></g>
<g id="n-PYGL" class="g" transform="translate(2802,740)"><ellipse rx="125" ry="57"/><text y="14">PYGL</text></g>
<g id="n-MAML2" class="g" transform="translate(3068,740)"><ellipse rx="125" ry="57"/><text y="14">MAML2</text></g>
<g id="n-TPM2" class="g" transform="translate(3334,740)"><ellipse rx="125" ry="57"/><text y="14">TPM2</text></g>
<g id="n-TRPC1" class="g" transform="translate(144,873)"><ellipse rx="125" ry="57"/><text y="14">TRPC1</text></g>
<g id="n-COL6A2" class="g" transform="translate(410,873)"><ellipse rx="125" ry="57"/><text y="14">COL6A2</text></g>
<g id="n-FGFR2" class="g" transform="translate(676,873)"><ellipse rx="125" ry="57"/><text y="14">FGFR2</text></g>
<g id="n-KLK1" class="g" transform="translate(942,873)"><ellipse rx="125" ry="57"/><text y="14">KLK1</text></g>
<g id="n-CTHRC1" class="r" transform="translate(1207,873)"><ellipse rx="125" ry="57"/><text y="14">CTHRC1</text></g>
<g id="n-NRG1" class="g" transform="translate(1473,873)"><ellipse rx="125" ry="57"/><text y="14">NRG1</text></g>
<g id="n-MYO6" class="r" transform="translate(1739,873)"><ellipse rx="125" ry="57"/><text y="14">MYO6</text></g>
<g id="n-FOLH1" class="r" transform="translate(2005,873)"><ellipse rx="125" ry="57"/><text y="14">FOLH1</text></g>
<g id="n-CXCL10" class="r" transform="translate(2271,873)"><ellipse rx="125" ry="57"/><text y="14">CXCL10</text></g>
<g id="n-DUOXA1" class="g" transform="translate(2537,873)"><ellipse rx="125" ry="57"/><text y="14">DUOXA1</text></g>
<g id="n-E2F5" class="r" transform="translate(2802,873)"><ellipse rx="125" ry="57"/><text y="14">E2F5</text></g>
<g id="n-NID1" class="g" transform="translate(3068,873)"><ellipse rx="125" ry="57"/><text y="14">NID1</text></g>
<g id="n-MYLK" class="g" transform="translate(3334,873)"><ellipse rx="125" ry="57"/><text y="14">MYLK</text></g>
<g id="n-VEGFA" class="g" transform="translate(144,1006)"><ellipse rx="125" ry="57"/><text y="14">VEGFA</text></g>
<g id="n-NTN4" class="g" transform="translate(410,1006)"><ellipse rx="125" ry="57"/><text y="14">NTN4</text></g>
<g id="n-GGT6" class="g" transform="translate(676,1006)"><ellipse rx="125" ry="57"/><text y="14">GGT6</text></g>
<g id="n-CENPN" class="r" transform="translate(942,1006)"><ellipse rx="125" ry="57"/><text y="14">CENPN</text></g>
<g id="n-MEIS2" class="g" transform="translate(1207,1006)"><ellipse rx="125" ry="57"/><text y="14">MEIS2</text></g>
<g id="n-MYC" class="r" transform="translate(1473,1006)"><ellipse rx="125" ry="57"/><text y="14">MYC</text></g>
<g id="n-ADAMTS1" class="g" transform="translate(1739,1006)"><ellipse rx="125" ry="57"/><text y="14">ADAMTS1</text></g>
<g id="n-MET" class="g" transform="translate(2005,1006)"><ellipse rx="125" ry="57"/><text y="14">MET</text></g>
<g id="n-UNC5A" class="r" transform="translate(2271,1006)"><ellipse rx="125" ry="57"/><text y="14">UNC5A</text></g>
<g id="n-ANGPTL4" class="g" transform="translate(2537,1006)"><ellipse rx="125" ry="57"/><text y="14">ANGPTL4</text></g>
<g id="n-ATP1A2" class="g" transform="translate(2802,1006)"><ellipse rx="125" ry="57"/><text y="14">ATP1A2</text></g>
<g id="n-PPARG" class="g" transform="translate(3068,1006)"><ellipse rx="125" ry="57"/><text y="14">PPARG</text></g>
<g id="n-ALDH2" class="g" transform="translate(3334,1006)"><ellipse rx="125" ry="57"/><text y="14">ALDH2</text></g>
<g id="n-RND2" class="g" transform="translate(144,1139)"><ellipse rx="125" ry="57"/><text y="14">RND2</text></g>
<g id="n-PPP1R14A" class="g" transform="translate(410,1139)"><ellipse rx="125" ry="57"/><text y="14">PPP1R14A</text></g>
<g id="n-CXCL13" class="g" transform="translate(676,1139)"><ellipse rx="125" ry="57"/><text y="14">CXCL13</text></g>
<g id="n-CCND2" class="g" transform="translate(942,1139)"><ellipse rx="125" ry="57"/><text y="14">CCND2</text></g>
<g id="n-DSC3" class="g" transform="translate(1207,1139)"><ellipse rx="125" ry="57"/><text y="14">DSC3</text></g>
<g id="n-EFEMP1" class="g" transform="translate(1473,1139)"><ellipse rx="125" ry="57"/><text y="14">EFEMP1</text></g>
<g id="n-MYB" class="r" transform="translate(1739,1139)"><ellipse rx="125" ry="57"/><text y="14">MYB</text></g>
<g id="n-ITGB4" class="g" transform="translate(2005,1139)"><ellipse rx="125" ry="57"/><text y="14">ITGB4</text></g>
<g id="n-ITGA2" class="g" transform="translate(2271,1139)"><ellipse rx="125" ry="57"/><text y="14">ITGA2</text></g>
<g id="n-LGALS3" class="g" transform="translate(2537,1139)"><ellipse rx="125" ry="57"/><text y="14">LGALS3</text></g>
<g id="n-ALDH1A2" class="g" transform="translate(2802,1139)"><ellipse rx="125" ry="57"/><text y="14">ALDH1A2</text></g>
<g id="n-EFNB1" class="g" transform="translate(3068,1139)"><ellipse rx="125" ry="57"/><text y="14">EFNB1</text></g>
<g id="n-UCK2" class="r" transform="translate(3334,1139)"><ellipse rx="125" ry="57"/><text y="14">UCK2</text></g>
<g id="n-IGFBP3" class="g" transform="translate(144,1272)"><ellipse rx="125" ry="57"/><text y="14">IGFBP3</text></g>
<g id="n-GSTM5" class="g" transform="translate(410,1272)"><ellipse rx="125" ry="57"/><text y="14">GSTM5</text></g>
<g id="n-PYGM" class="g" transform="translate(676,1272)"><ellipse rx="125" ry="57"/><text y="14">PYGM</text></g>
<g id="n-TRIP6" class="g" transform="translate(942,1272)"><ellipse rx="125" ry="57"/><text y="14">TRIP6</text></g>
<g id="n-LAMA3" class="g" transform="translate(1207,1272)"><ellipse rx="125" ry="57"/><text y="14">LAMA3</text></g>
<g id="n-PAK1" class="g" transform="translate(1473,1272)"><ellipse rx="125" ry="57"/><text y="14">PAK1</text></g>
<g id="n-EPHA2" class="g" transform="translate(1739,1272)"><ellipse rx="125" ry="57"/><text y="14">EPHA2</text></g>
<g id="n-CAV1" class="g" transform="translate(2005,1272)"><ellipse rx="125" ry="57"/><text y="14">CAV1</text></g>
<g id="n-SNAP25" class="g" transform="translate(2271,1272)"><ellipse rx="125" ry="57"/><text y="14">SNAP25</text></g>
<g id="n-TSC22D3" class="g" transform="translate(2537,1272)"><ellipse rx="125" ry="57"/><text y="14">TSC22D3</text></g>
<g id="n-ANXA6" class="g" transform="translate(2802,1272)"><ellipse rx="125" ry="57"/><text y="14">ANXA6</text></g>
<g id="n-MYOF" class="g" transform="translate(3068,1272)"><ellipse rx="125" ry="57"/><text y="14">MYOF</text></g>
<g id="n-MAOB" class="g" transform="translate(3334,1272)"><ellipse rx="125" ry="57"/><text y="14">MAOB</text></g>
<g id="n-PRKG2" class="g" transform="translate(144,1405)"><ellipse rx="125" ry="57"/><text y="14">PRKG2</text></g>
<g id="n-TP63" class="g" transform="translate(410,1405)"><ellipse rx="125" ry="57"/><text y="14">TP63</text></g>
<g id="n-CACNG4" class="g" transform="translate(676,1405)"><ellipse rx="125" ry="57"/><text y="14">CACNG4</text></g>
<g id="n-LYVE1" class="g" transform="translate(942,1405)"><ellipse rx="125" ry="57"/><text y="14">LYVE1</text></g>
<g id="n-ITGB8" class="g" transform="translate(1207,1405)"><ellipse rx="125" ry="57"/><text y="14">ITGB8</text></g>
<g id="n-LRRTM4" class="g" transform="translate(1473,1405)"><ellipse rx="125" ry="57"/><text y="14">LRRTM4</text></g>
<g id="n-FADS1" class="g" transform="translate(1739,1405)"><ellipse rx="125" ry="57"/><text y="14">FADS1</text></g>
<g id="n-CXCL11" class="r" transform="translate(2005,1405)"><ellipse rx="125" ry="57"/><text y="14">CXCL11</text></g>
<g id="n-TUBB2A" class="r" transform="translate(2271,1405)"><ellipse rx="125" ry="57"/><text y="14">TUBB2A</text></g>
<g id="n-MATK" class="r" transform="translate(2537,1405)"><ellipse rx="125" ry="57"/><text y="14">MATK</text></g>
<g id="n-TGFB3" class="g" transform="translate(2802,1405)"><ellipse rx="125" ry="57"/><text y="14">TGFB3</text></g>
<g id="n-PRKCA" class="g" transform="translate(3068,1405)"><ellipse rx="125" ry="57"/><text y="14">PRKCA</text></g>
<g id="n-KRT5" class="g" transform="translate(3334,1405)"><ellipse rx="125" ry="57"/><text y="14">KRT5</text></g>
<g id="n-EFNA5" class="g" transform="translate(144,1538)"><ellipse rx="125" ry="57"/><text y="14">EFNA5</text></g>
<g id="n-ID4" class="g" transform="translate(410,1538)"><ellipse rx="125" ry="57"/><text y="14">ID4</text></g>
<g id="n-NRG4" class="g" transform="translate(676,1538)"><ellipse rx="125" ry="57"/><text y="14">NRG4</text></g>
<g id="n-MCCC2" class="r" transform="translate(942,1538)"><ellipse rx="125" ry="57"/><text y="14">MCCC2</text></g>
<g id="n-HEY2" class="r" transform="translate(1207,1538)"><ellipse rx="125" ry="57"/><text y="14">HEY2</text></g>
<g id="n-ST3GAL5" class="g" transform="translate(1473,1538)"><ellipse rx="125" ry="57"/><text y="14">ST3GAL5</text></g>
<g id="n-HJURP" class="r" transform="translate(1739,1538)"><ellipse rx="125" ry="57"/><text y="14">HJURP</text></g>
<g id="n-MYH11" class="g" transform="translate(2005,1538)"><ellipse rx="125" ry="57"/><text y="14">MYH11</text></g>
<g id="n-ALDH1A3" class="r" transform="translate(2271,1538)"><ellipse rx="125" ry="57"/><text y="14">ALDH1A3</text></g>
<g id="n-PLA2G7" class="r" transform="translate(2537,1538)"><ellipse rx="125" ry="57"/><text y="14">PLA2G7</text></g>
<g id="n-GPC6" class="g" transform="translate(2802,1538)"><ellipse rx="125" ry="57"/><text y="14">GPC6</text></g>
<g id="n-KCNMB1" class="g" transform="translate(3068,1538)"><ellipse rx="125" ry="57"/><text y="14">KCNMB1</text></g>
<g id="n-ATP1B1" class="g" transform="translate(3334,1538)"><ellipse rx="125" ry="57"/><text y="14">ATP1B1</text></g>
<g id="n-MCC" class="g" transform="translate(144,1671)"><ellipse rx="125" ry="57"/><text y="14">MCC</text></g>
<g id="n-TWIST1" class="r" transform="translate(410,1671)"><ellipse rx="125" ry="57"/><text y="14">TWIST1</text></g>
<g id="n-ID1" class="g" transform="translate(676,1671)"><ellipse rx="125" ry="57"/><text y="14">ID1</text></g>
<g id="n-CXCL12" class="g" transform="translate(942,1671)"><ellipse rx="125" ry="57"/><text y="14">CXCL12</text></g>
<g id="n-ITGB6" class="g" transform="translate(1207,1671)"><ellipse rx="125" ry="57"/><text y="14">ITGB6</text></g>
<g id="n-KCNMA1" class="g" transform="translate(1473,1671)"><ellipse rx="125" ry="57"/><text y="14">KCNMA1</text></g>
<g id="n-ANPEP" class="g" transform="translate(1739,1671)"><ellipse rx="125" ry="57"/><text y="14">ANPEP</text></g>
<g id="n-KRT14" class="g" transform="translate(2005,1671)"><ellipse rx="125" ry="57"/><text y="14">KRT14</text></g>
<g id="n-NAT1" class="g" transform="translate(2271,1671)"><ellipse rx="125" ry="57"/><text y="14">NAT1</text></g>
<g id="n-GSTM1" class="g" transform="translate(2537,1671)"><ellipse rx="125" ry="57"/><text y="14">GSTM1</text></g>
<g id="n-ID3" class="g" transform="translate(2802,1671)"><ellipse rx="125" ry="57"/><text y="14">ID3</text></g>
<g id="n-GJA1" class="g" transform="translate(3068,1671)"><ellipse rx="125" ry="57"/><text y="14">GJA1</text></g>
<g id="n-ITGA3" class="g" transform="translate(3334,1671)"><ellipse rx="125" ry="57"/><text y="14">ITGA3</text></g>
<g id="n-CTF1" class="g" transform="translate(144,1804)"><ellipse rx="125" ry="57"/><text y="14">CTF1</text></g>
<g id="n-FADS2" class="g" transform="translate(410,1804)"><ellipse rx="125" ry="57"/><text y="14">FADS2</text></g>
<g id="n-TIMP3" class="g" transform="translate(676,1804)"><ellipse rx="125" ry="57"/><text y="14">TIMP3</text></g>
<g id="n-COL6A1" class="g" transform="translate(942,1804)"><ellipse rx="125" ry="57"/><text y="14">COL6A1</text></g>
<g id="n-PKP1" class="g" transform="translate(1207,1804)"><ellipse rx="125" ry="57"/><text y="14">PKP1</text></g>
<g id="n-SNAI2" class="g" transform="translate(1473,1804)"><ellipse rx="125" ry="57"/><text y="14">SNAI2</text></g>
<g id="n-GATM" class="g" transform="translate(1739,1804)"><ellipse rx="125" ry="57"/><text y="14">GATM</text></g>
<g id="n-DLGAP5" class="r" transform="translate(2005,1804)"><ellipse rx="125" ry="57"/><text y="14">DLGAP5</text></g>
<g id="n-FHL2" class="g" transform="translate(2271,1804)"><ellipse rx="125" ry="57"/><text y="14">FHL2</text></g>
</g>
<text class="cap" x="1739" y="1985">(A)</text>
</svg>
